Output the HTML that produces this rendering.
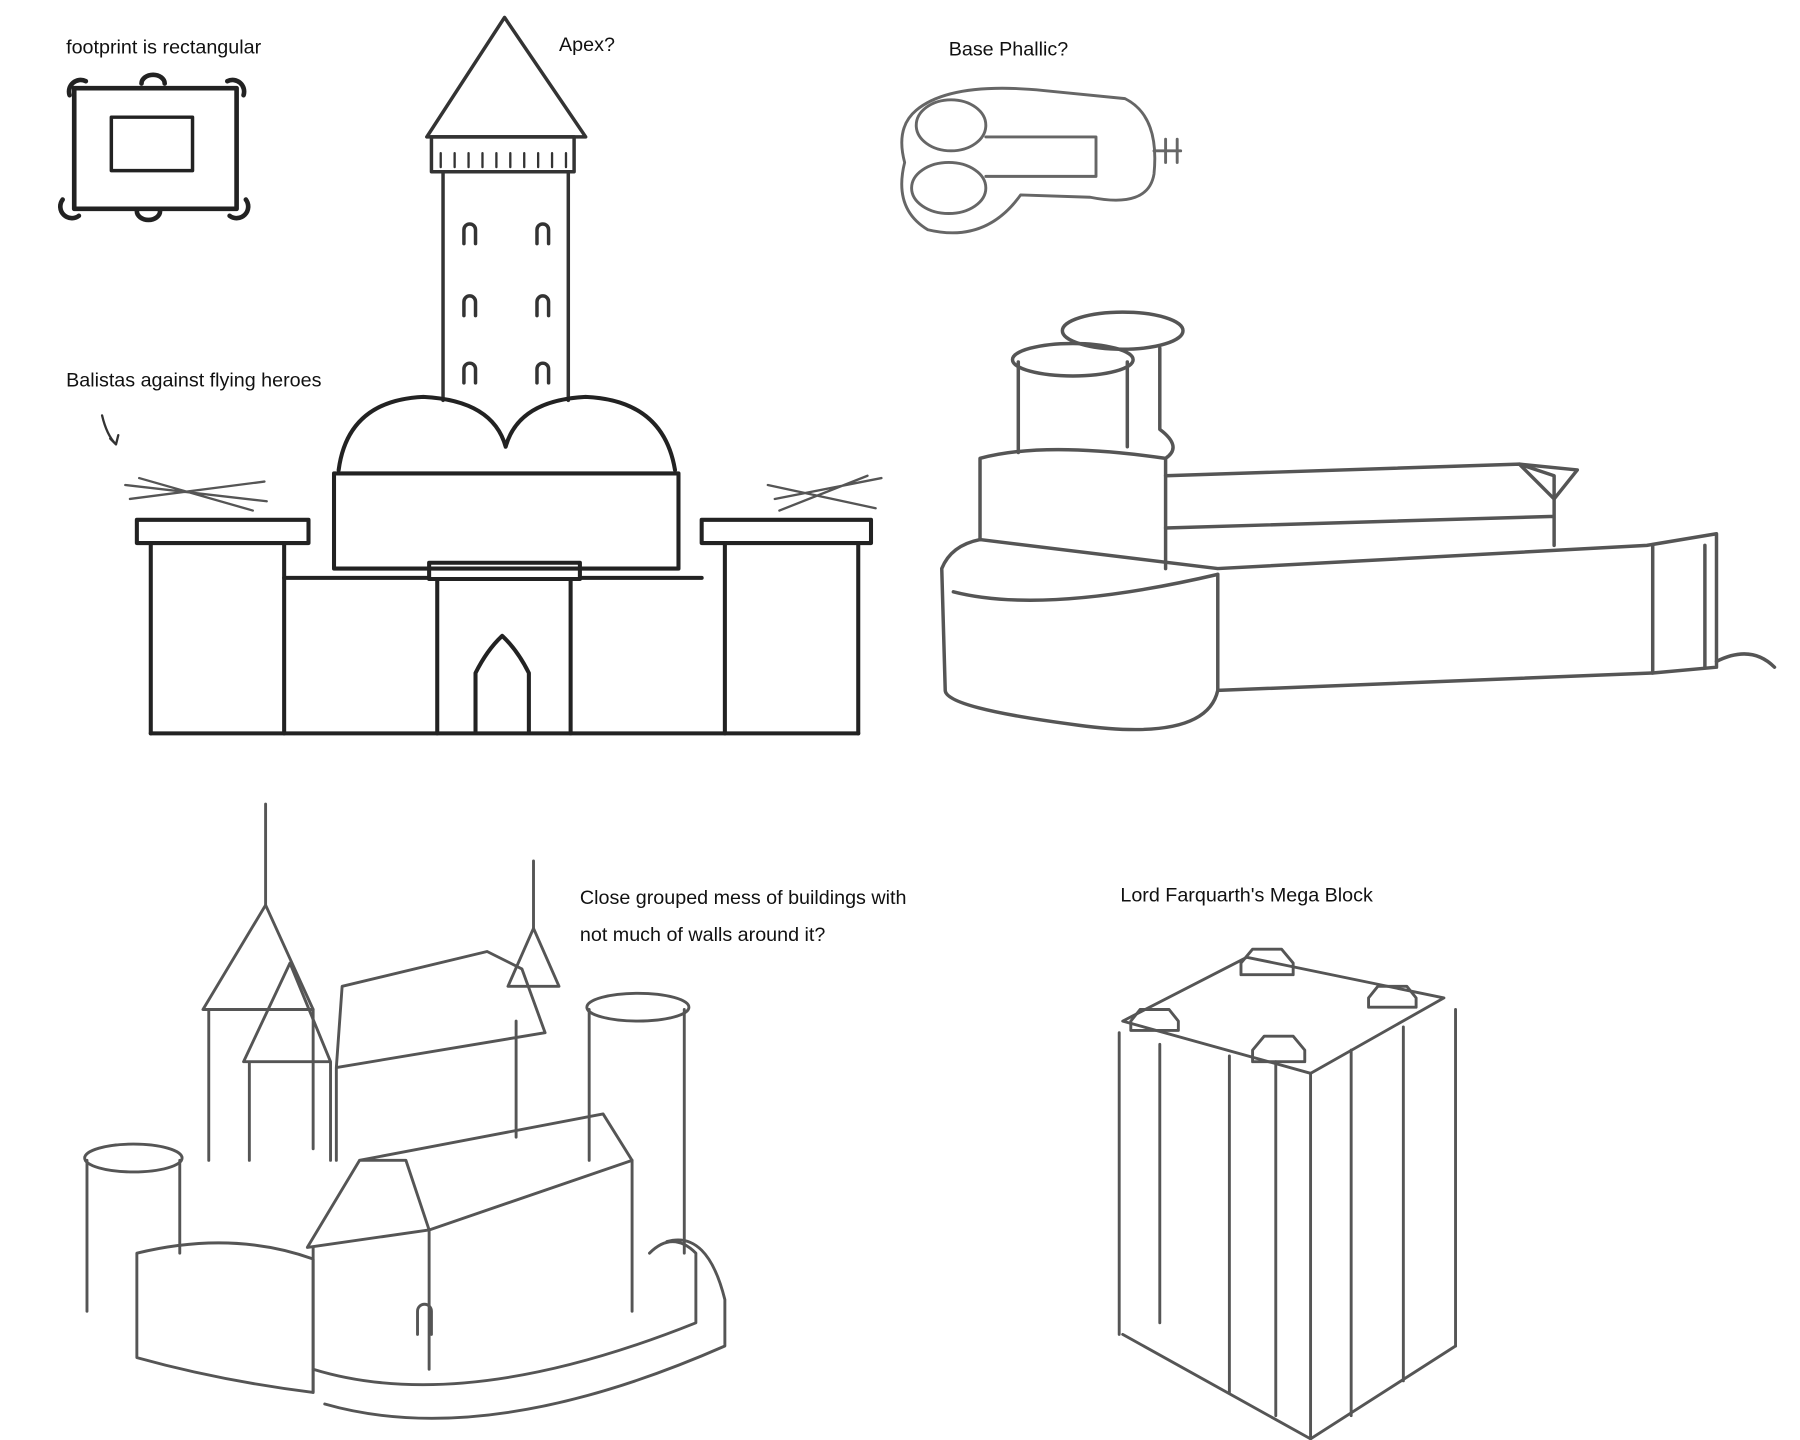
<!DOCTYPE html>
<html><head><meta charset="utf-8"><style>
html,body{margin:0;padding:0;background:#fff;}
svg{display:block;}
text{font-family:"Liberation Sans",sans-serif;font-size:17px;fill:#111;}
</style></head><body>
<svg width="1800" height="1440" viewBox="0 0 1552 1241" preserveAspectRatio="none" xmlns="http://www.w3.org/2000/svg">
<rect width="1552" height="1241" fill="#fff"/>
<g fill="none" stroke-linecap="round" stroke-linejoin="round">
<!-- footprint -->
<g stroke="#222" stroke-width="4">
<rect x="64" y="76" width="140" height="104"/>
<rect x="96" y="101" width="70" height="46" stroke-width="3"/>
<path d="M60 82 a10 10 0 0 1 14 -12 M196 70 a10 10 0 0 1 14 12 M54 172 a10 10 0 0 0 14 14 M198 186 a10 10 0 0 0 14 -14 M118 182 a8 6 0 0 0 20 0 M122 72 a8 6 0 0 1 20 0"/>
</g>
<!-- tower -->
<g stroke="#333" stroke-width="3">
<path d="M435 15 L368 118 L505 118 Z"/>
<rect x="372" y="118" width="123" height="30"/>
<path d="M382 148 L382 345 M490 148 L490 345"/>
<path d="M380 132 v12 M392 132 v12 M404 132 v12 M416 132 v12 M428 132 v12 M440 132 v12 M452 132 v12 M464 132 v12 M476 132 v12 M488 132 v12" stroke-width="2"/>
<path d="M400 210 v-12 a5 5 0 0 1 10 0 v12 M463 210 v-12 a5 5 0 0 1 10 0 v12 M400 272 v-12 a5 5 0 0 1 10 0 v12 M463 272 v-12 a5 5 0 0 1 10 0 v12 M400 330 v-12 a5 5 0 0 1 10 0 v12 M463 330 v-12 a5 5 0 0 1 10 0 v12"/>
</g>
<!-- main castle -->
<g stroke="#222" stroke-width="3.5">
<path d="M292 405 Q300 345 365 342 Q425 345 436 385 Q447 345 505 342 Q572 345 582 405"/>
<rect x="288" y="408" width="297" height="82"/>
<path d="M130 632 L740 632"/>
<path d="M245 498 L370 498 M500 498 L605 498"/>
<rect x="118" y="448" width="148" height="20"/>
<path d="M130 468 V632 M245 468 V632"/>
<rect x="605" y="448" width="146" height="20"/>
<path d="M625 468 V632 M740 468 V632"/>
<rect x="370" y="485" width="130" height="14"/>
<path d="M377 499 V632 M492 499 V632"/>
<path d="M410 630 V580 Q420 560 433 548 Q446 560 456 580 V630"/>
</g>
<g stroke="#555" stroke-width="2">
<path d="M108 418 L230 432 M112 430 L228 415 M120 412 L218 440 M668 430 L760 412 M662 418 L755 438 M672 440 L748 410"/>
</g>
<!-- base phallic -->
<g stroke="#666" stroke-width="2.5">
<path d="M790 95 Q820 70 900 78 L970 85 Q1000 100 995 150 Q990 180 940 170 L880 168 Q850 210 800 198 Q770 180 780 140 Q772 110 790 95 Z"/>
<ellipse cx="820" cy="108" rx="30" ry="22"/>
<ellipse cx="818" cy="162" rx="32" ry="22"/>
<path d="M850 118 L945 118 L945 152 L850 152"/>
<path d="M995 130 L1018 130 M1005 120 v20 M1015 120 v20"/>
</g>
<!-- right castle -->
<g stroke="#555" stroke-width="3">
<path d="M812 490 Q820 470 845 465 L1050 490 L1420 470 L1480 460 L1480 575 L1425 580 L1050 595 Q1040 640 930 625 Q815 610 815 595 Z"/>
<path d="M822 510 Q900 530 1050 495"/>
<path d="M1050 495 V595"/>
<path d="M845 465 V395 Q900 380 1005 395 V490"/>
<path d="M1005 410 L1310 400 L1340 410 L1340 470 M1005 455 L1340 445"/>
<path d="M1310 400 L1360 405 L1340 430 Z"/>
<ellipse cx="925" cy="310" rx="52" ry="14"/>
<path d="M878 312 V390 M972 312 V385"/>
<ellipse cx="968" cy="285" rx="52" ry="16"/>
<path d="M1000 300 V370 Q1020 385 1005 395"/>
<path d="M1425 470 V580 M1470 470 V575"/>
<path d="M1480 570 Q1510 555 1530 575"/>
</g>
<!-- bottom castle -->
<g stroke="#555" stroke-width="2.5">
<path d="M229 693 V780 M460 742 V800"/>
<path d="M229 780 L175 870 L270 870 Z M460 800 L438 850 L482 850 Z"/>
<path d="M180 870 V1000 M270 870 V990"/>
<path d="M250 830 L210 915 L285 915 Z M215 915 V1000 M285 915 V1000"/>
<path d="M295 850 L420 820 L450 835 L470 890 L290 920 Z M290 920 V1000 M445 880 V980"/>
<ellipse cx="550" cy="868" rx="44" ry="12"/>
<path d="M508 870 V1000 M590 870 V1080"/>
<ellipse cx="115" cy="998" rx="42" ry="12"/>
<path d="M75 1000 V1130 M155 1000 V1080"/>
<path d="M118 1080 Q200 1060 270 1085 V1200 Q190 1190 118 1170 Z"/>
<path d="M265 1075 L310 1000 L350 1000 L370 1060 Z M370 1060 L545 1000 M310 1000 L520 960 L545 1000"/>
<path d="M270 1075 V1200 M370 1060 V1180 M545 1000 V1130"/>
<path d="M270 1180 Q400 1220 600 1140 V1080 Q580 1060 560 1080"/>
<path d="M280 1210 Q420 1250 625 1160 L625 1120 Q610 1060 575 1070"/>
<path d="M360 1150 v-20 a6 6 0 0 1 12 0 v20"/>
</g>
<!-- mega block -->
<g stroke="#555" stroke-width="2.5">
<path d="M968 880 L1075 825 L1245 860 L1130 925 Z"/>
<path d="M965 890 V1150 M1130 925 V1240 M1255 870 V1160"/>
<path d="M1000 900 V1140 M1060 910 V1200 M1100 915 V1220 M1165 905 V1220 M1210 885 V1190"/>
<path d="M968 1150 L1130 1240 L1255 1160"/>
<path d="M1070 830 l10 -12 h25 l10 12 v10 h-45 Z M1180 860 l8 -10 h25 l8 10 v8 h-41 Z M975 880 l8 -10 h25 l8 10 v8 h-41 Z M1080 905 l10 -12 h25 l10 12 v10 h-45 Z"/>
</g>
<path d="M88 358 Q92 375 100 383 M95 378 l5 5 l2 -8" stroke="#333" stroke-width="2"/>
</g>
<text x="57" y="46">footprint is rectangular</text>
<text x="482" y="44">Apex?</text>
<text x="818" y="48">Base Phallic?</text>
<text x="57" y="333">Balistas against flying heroes</text>
<text x="500" y="779">Close grouped mess of buildings with</text>
<text x="500" y="811">not much of walls around it?</text>
<text x="966" y="777">Lord Farquarth's Mega Block</text>
</svg>
</body></html>
